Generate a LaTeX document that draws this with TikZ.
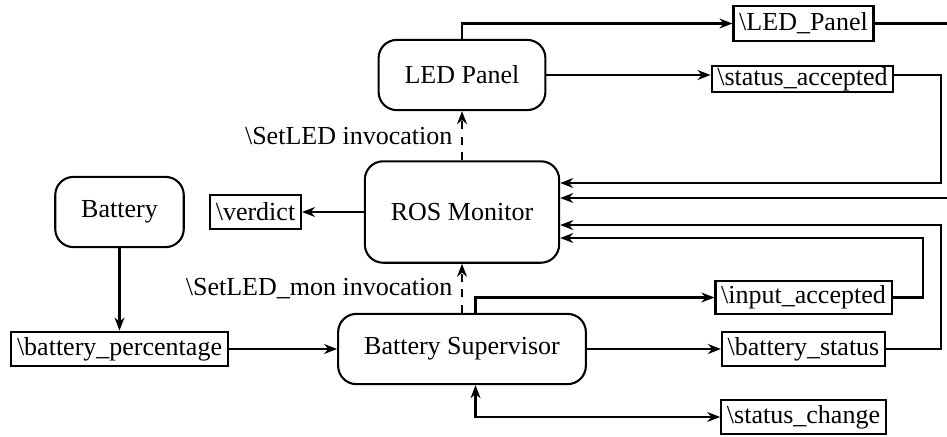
\documentclass[tikz,border=0pt]{standalone}
\usepackage{fontspec}
\setmainfont{Liberation Serif}
\usepackage{tikz}
\usetikzlibrary{calc, arrows.meta}
\tikzstyle{comp}=[draw, rounded corners=7pt, inner xsep=10pt, minimum height=27pt]
\tikzstyle{port}=[draw, inner xsep=2.2pt, inner ysep=0pt, minimum height=13.4pt]

\begin{document}
\begin{tikzpicture}[x=0.3846pt,y=-0.3846pt,thick,auto,>={Stealth[length=5pt,width=3.8pt,inset=1.6pt]}]
      \useasboundingbox (0,0) rectangle (947,436);
      \node [comp] (led) at (462,75) {LED Panel};
      \node [comp, minimum height=39pt] (ros) at (462,212) {ROS Monitor};
      \node [comp] (bat) at (119.5,212) {Battery};
      \node [comp] (bs) at (462,349) {Battery Supervisor};
      \node [port] (ledp) at (803.5,23.5) {\textbackslash LED\_Panel};
      \node [port, minimum height=10.3pt] (sa) at (802.5,79) {\textbackslash status\_accepted};
      \node [port] (verdict) at (255.5,212) {\textbackslash verdict};
      \node [port] (bp) at (119.5,349) {\textbackslash battery\_percentage};
      \node [port, minimum height=12.7pt] (ia) at (803.5,297.5) {\textbackslash input\_accepted};
      \node [port] (bst) at (803.5,349) {\textbackslash battery\_status};
      \node [port] (sc) at (803.5,417) {\textbackslash status\_change};
      % turning points on the right
      \coordinate (c0) at (955,198);
      \coordinate (c1) at (941,183);
      \coordinate (c2) at (941,225);
      \coordinate (c3) at (923,238);
      \draw[->] (bat) -- (bp);
      \draw[->] (bp) -- (bs);
      \draw[->] (ros) -- (verdict);
      \draw[->, dashed] (ros) -- node[left] {\textbackslash SetLED invocation} (led);
      \draw[->, dashed] (bs) -- node[left] {\textbackslash SetLED\_mon invocation} (ros);
      \draw[->] (led.north) |- (ledp);
      \draw[->] (led.east) -- (led.east -| sa.west);
      \draw[->] (bs) -- (bst);
      \draw[->] ([xshift=5.2pt]bs.north) |- (ia);
      \draw[<->] ([xshift=5.2pt]bs.south) |- (sc);
      % back to the monitor
      \draw[->] (ledp) -| (c0) -- (c0 -| ros.east);
      \draw[->] (led.east -| sa.east) -| (c1) -- (c1 -| ros.east);
      \draw[->] (bst) -| (c2) -- (c2 -| ros.east);
      \draw[->] (ia) -| (c3) -- (c3 -| ros.east);
\end{tikzpicture}
\end{document}
